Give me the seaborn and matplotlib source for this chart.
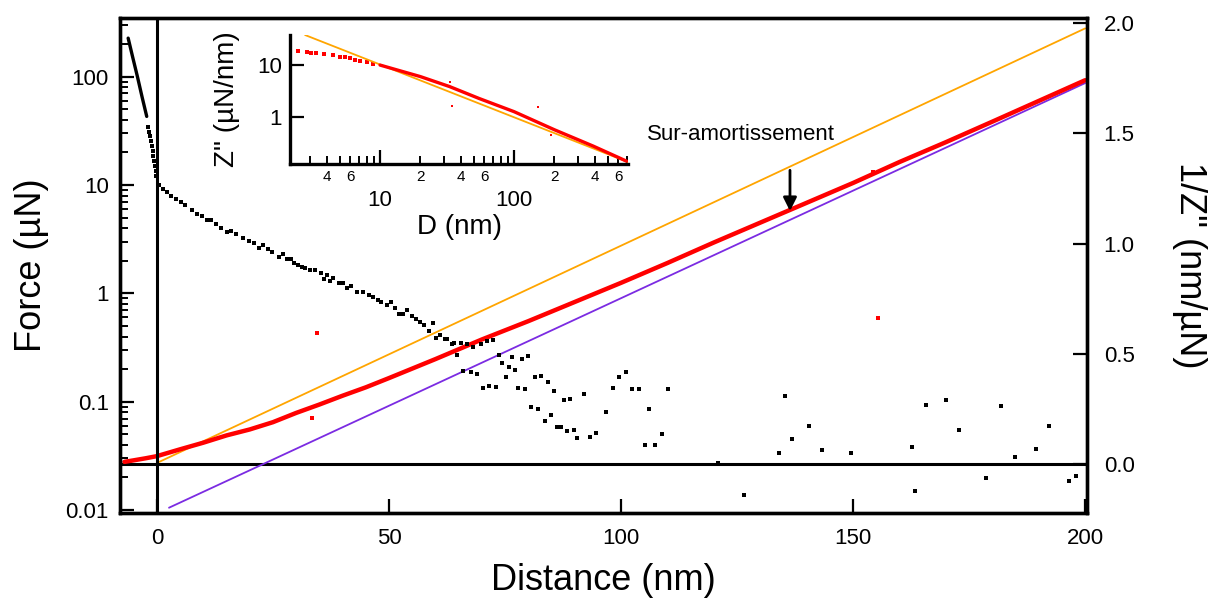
import numpy as np
import pandas as pd
import seaborn as sns
import matplotlib.pyplot as plt
from matplotlib.ticker import FixedLocator, FixedFormatter, NullLocator, NullFormatter, LogLocator

# --- force curve (left axis, log scale) ---
steep_x = [-6.2, -5.2, -4.2, -3.2, -2.2]
steep_f = [227, 150, 100, 65, 43]

force_x = [-1.9, -1.7, -1.5, -1.3, -1.1, -0.95, -0.8, -0.6, -0.4, -0.25, -0.1,
           0.5, 1.2, 2.1, 3.1, 4.1, 5.1, 6.1, 7.5, 8.7, 9.7, 10.8, 11.7, 12.7, 13.7,
           15.2, 16.0, 17.0, 18.6, 19.8, 21.0, 21.9, 22.8, 23.9, 24.9, 26.2, 27.2,
           28.0, 28.8, 29.5, 30.5, 31.3, 32.0, 33.0, 34.0, 35.3, 36.1, 36.7, 37.3,
           38.0, 39.2, 40.0, 40.9, 41.9, 43.2, 44.5, 45.8, 46.6, 47.6, 48.3, 49.5,
           50.4, 51.4, 52.2, 53.1, 53.8, 55.0, 55.8, 56.7, 57.5, 58.6, 59.4, 60.1,
           61.0, 62.0, 62.6, 63.5, 64.1, 64.7, 65.5, 66.0, 66.9, 67.6, 68.2, 69.0,
           69.8, 70.3, 71.1, 71.6, 72.5, 73.1, 73.8, 74.4, 75.3, 75.9, 76.6, 77.2,
           77.9, 78.7, 79.4, 80.0, 80.7, 81.5, 82.2, 82.8, 83.7, 84.3, 85.0, 85.6,
           86.3, 87.1, 87.8, 88.4, 89.1, 89.9, 90.6, 92.1, 93.4, 94.7, 96.8, 98.3,
           99.6, 101.1, 102.4, 103.9, 105.2, 106.1, 107.4, 108.9, 110.2,
           120.8, 126.4, 134.1, 135.4, 136.9, 140.4, 143.4, 149.6, 162.6, 163.4,
           165.6, 170.1, 172.9, 178.7, 181.9, 184.9, 189.5, 192.3, 196.6, 198.1]
force_f = [34.7, 31.2, 28.2, 25.3, 22.8, 20.5, 18.4, 16.5, 14.9, 13.4, 12.1,
           10.1, 9.2, 8.6, 8.0, 7.4, 7.0, 6.5, 5.85, 5.4, 5.15, 4.8, 4.74, 4.4, 4.0,
           3.7, 3.8, 3.5, 3.23, 3.03, 2.93, 2.64, 2.81, 2.58, 2.4, 2.18, 2.3,
           2.06, 2.09, 1.92, 1.84, 1.76, 1.73, 1.66, 1.64, 1.53, 1.35, 1.49, 1.29,
           1.38, 1.24, 1.25, 1.11, 1.17, 1.04, 1.03, 0.97, 0.93, 0.87, 0.84, 0.78,
           0.83, 0.74, 0.64, 0.65, 0.71, 0.62, 0.58, 0.54, 0.51, 0.45, 0.53, 0.39,
           0.41, 0.377, 0.38, 0.34, 0.35, 0.27, 0.35, 0.194, 0.34, 0.19, 0.32, 0.18,
           0.34, 0.135, 0.36, 0.141, 0.37, 0.137, 0.268, 0.23, 0.171, 0.21, 0.26, 0.198,
           0.135, 0.25, 0.13, 0.267, 0.09, 0.171, 0.085, 0.174, 0.066, 0.153, 0.076, 0.127,
           0.058, 0.059, 0.103, 0.054, 0.107, 0.055, 0.046, 0.117, 0.047, 0.051, 0.08, 0.135,
           0.171, 0.19, 0.132, 0.13, 0.04, 0.085, 0.04, 0.05, 0.132,
           0.0273, 0.0137, 0.034, 0.114, 0.045, 0.060, 0.036, 0.034, 0.038, 0.0149,
           0.094, 0.103, 0.055, 0.0196, 0.092, 0.031, 0.037, 0.060, 0.0184, 0.0205]

# --- 1/Z'' (right axis) ---
inv_x = [-7, -5, -2.5, 0, 5, 10, 15, 20, 25, 30, 35, 40, 45, 50, 60, 70, 80, 90,
         100, 110, 120, 130, 140, 150, 160, 170, 180, 190, 200]
inv_z = [0.010, 0.017, 0.026, 0.036, 0.067, 0.097, 0.130, 0.157, 0.190, 0.232, 0.270,
         0.310, 0.348, 0.390, 0.476, 0.565, 0.648, 0.735, 0.822, 0.912, 1.005, 1.095,
         1.185, 1.275, 1.37, 1.46, 1.553, 1.647, 1.741]
inv_out_x = [33.4, 34.5, 154.3, 155.4]
inv_out_z = [0.207, 0.593, 1.324, 0.662]

orange_x = [0.3, 200]
orange_z = [0.008, 1.976]
purple_x = [2.6, 200]
purple_z = [-0.198, 1.728]

# --- inset: Z'' vs D (log-log) ---
ins_sparse_d = [2.46, 2.84, 3.08, 3.33, 3.85, 4.43, 5.03, 5.48, 5.97, 6.51, 7.09, 7.95, 8.92]
ins_sparse_z = [18.8, 17.7, 17.2, 16.9, 16.2, 15.8, 14.4, 14.0, 13.4, 12.6, 12.1, 11.4, 10.6]
ins_d = [10, 14, 20, 33, 55, 100, 200, 390, 690]
ins_z = [10, 7.8, 6.0, 3.86, 2.27, 1.27, 0.57, 0.276, 0.142]
ins_out_d = [33.3, 34.2, 151, 188]
ins_out_z = [4.8, 1.65, 1.53, 0.46]
ins_fit_d = [2.76, 708]
ins_fit_z = [37.8, 0.136]

sns.set_style('ticks')
plt.rcParams['font.family'] = ['Liberation Sans', 'DejaVu Sans']
plt.rcParams['text.color'] = 'black'
plt.rcParams['axes.labelcolor'] = 'black'
plt.rcParams['xtick.color'] = 'black'
plt.rcParams['ytick.color'] = 'black'

fig = plt.figure(figsize=(12.14, 6.01), dpi=100)
ax = fig.add_axes([0.0988, 0.1464, 0.7966, 0.8236])
ax_r = ax.twinx()
ax.set_zorder(ax_r.get_zorder() + 1)
ax.patch.set_visible(False)

ORANGE = '#FFA500'
PURPLE = '#7B2BE2'

# right axis content
ax_r.axhline(0, color='black', lw=2.2, zorder=1)
sns.lineplot(x=orange_x, y=orange_z, ax=ax_r, color=ORANGE, lw=1.3, sort=False, estimator=None)
sns.lineplot(x=purple_x, y=purple_z, ax=ax_r, color=PURPLE, lw=1.3, sort=False, estimator=None)
sns.lineplot(x=inv_x, y=inv_z, ax=ax_r, color='red', lw=3.2, sort=False, estimator=None)
sns.scatterplot(x=inv_out_x, y=inv_out_z, ax=ax_r, color='red', marker='s', s=7, linewidth=0)

# left axis content
ax.axvline(0, color='black', lw=2.2, zorder=1)
sns.lineplot(x=steep_x, y=steep_f, ax=ax, color='black', lw=2.4, sort=False, estimator=None)
sns.scatterplot(x=force_x, y=force_f, ax=ax, color='black', marker='s', s=8, linewidth=0)

ax.set_yscale('log')
ax.set_xlim(-7.97, 200.4)
ax.set_ylim(0.0094, 348)
ax_r.set_ylim(-0.222, 2.023)

ax.set_xticks([0, 50, 100, 150, 200])
ax.set_yticks([0.01, 0.1, 1, 10, 100])
ax.set_yticklabels(['0.01', '0.1', '1', '10', '100'])
ax.yaxis.set_minor_locator(LogLocator(base=10, subs=np.arange(2, 10)))
ax.yaxis.set_minor_formatter(NullFormatter())
ax_r.set_yticks([0.0, 0.5, 1.0, 1.5, 2.0])
ax_r.set_yticklabels(['0.0', '0.5', '1.0', '1.5', '2.0'])

ax.tick_params(axis='both', which='major', direction='in', length=10, width=1.6,
               labelsize=16, pad=8, color='black')
ax.tick_params(axis='x', which='major', pad=11)
ax.tick_params(axis='y', which='minor', direction='in', length=6, width=1.4)
ax.tick_params(axis='x', which='minor', bottom=False)
ax_r.tick_params(axis='y', which='major', direction='in', length=10, width=1.6,
                 labelsize=16, pad=12)
for a in (ax, ax_r):
    for sp in a.spines.values():
        sp.set_linewidth(2.4)
        sp.set_color('black')

ax.set_xlabel('Distance (nm)', fontsize=26, labelpad=10)
ax.set_ylabel('Force (µN)', fontsize=26, labelpad=12)
ax_r.set_ylabel('1/Z" (nm/µN)', fontsize=26, rotation=270, labelpad=52)

ax_r.annotate('', xy=(136.4, 1.135), xytext=(136.4, 1.345),
              arrowprops=dict(arrowstyle='-|>', color='black', lw=2, mutation_scale=20))
ax_r.text(105.6, 1.493, 'Sur-amortissement', fontsize=16, va='center', ha='left')

# inset
axi = fig.add_axes([0.2389, 0.7271, 0.2784, 0.2146])
axi.set_zorder(ax.get_zorder() + 1)
axi.patch.set_visible(False)
sns.lineplot(x=ins_fit_d, y=ins_fit_z, ax=axi, color=ORANGE, lw=1.3, sort=False, estimator=None)
sns.lineplot(x=ins_d, y=ins_z, ax=axi, color='red', lw=2.4, sort=False, estimator=None)
sns.scatterplot(x=ins_sparse_d, y=ins_sparse_z, ax=axi, color='red', marker='s', s=5, linewidth=0)
sns.scatterplot(x=ins_out_d, y=ins_out_z, ax=axi, color='red', marker='s', s=4, linewidth=0)
axi.set_xscale('log')
axi.set_yscale('log')
axi.set_xlim(2.13, 708)
axi.set_ylim(0.125, 37.8)
axi.xaxis.set_major_locator(FixedLocator([10, 100]))
axi.xaxis.set_major_formatter(FixedFormatter(['10', '100']))
minor_pos = [3, 4, 5, 6, 7, 8, 9, 20, 30, 40, 50, 60, 70, 80, 90,
             200, 300, 400, 500, 600, 700]
minor_lab = ['', '4', '', '6', '', '', '', '2', '', '4', '', '6', '', '', '',
             '2', '', '4', '', '6', '']
axi.xaxis.set_minor_locator(FixedLocator(minor_pos))
axi.xaxis.set_minor_formatter(FixedFormatter(minor_lab))
axi.yaxis.set_major_locator(FixedLocator([1, 10]))
axi.yaxis.set_major_formatter(FixedFormatter(['1', '10']))
axi.yaxis.set_minor_locator(NullLocator())
axi.tick_params(axis='x', which='major', direction='in', length=10, width=1.6,
                labelsize=16, pad=19)
axi.tick_params(axis='x', which='minor', direction='in', length=6, width=1.4,
                labelsize=11, pad=4)
axi.tick_params(axis='y', which='major', direction='in', length=10, width=1.6,
                labelsize=16, pad=6)
axi.spines['top'].set_visible(False)
axi.spines['right'].set_visible(False)
for s in ('left', 'bottom'):
    axi.spines[s].set_linewidth(2.4)
    axi.spines[s].set_color('black')
axi.set_xlabel('D (nm)', fontsize=20, labelpad=2)
axi.set_ylabel('Z" (µN/nm)', fontsize=20, labelpad=12)

fig.savefig('out.png', dpi=100)
